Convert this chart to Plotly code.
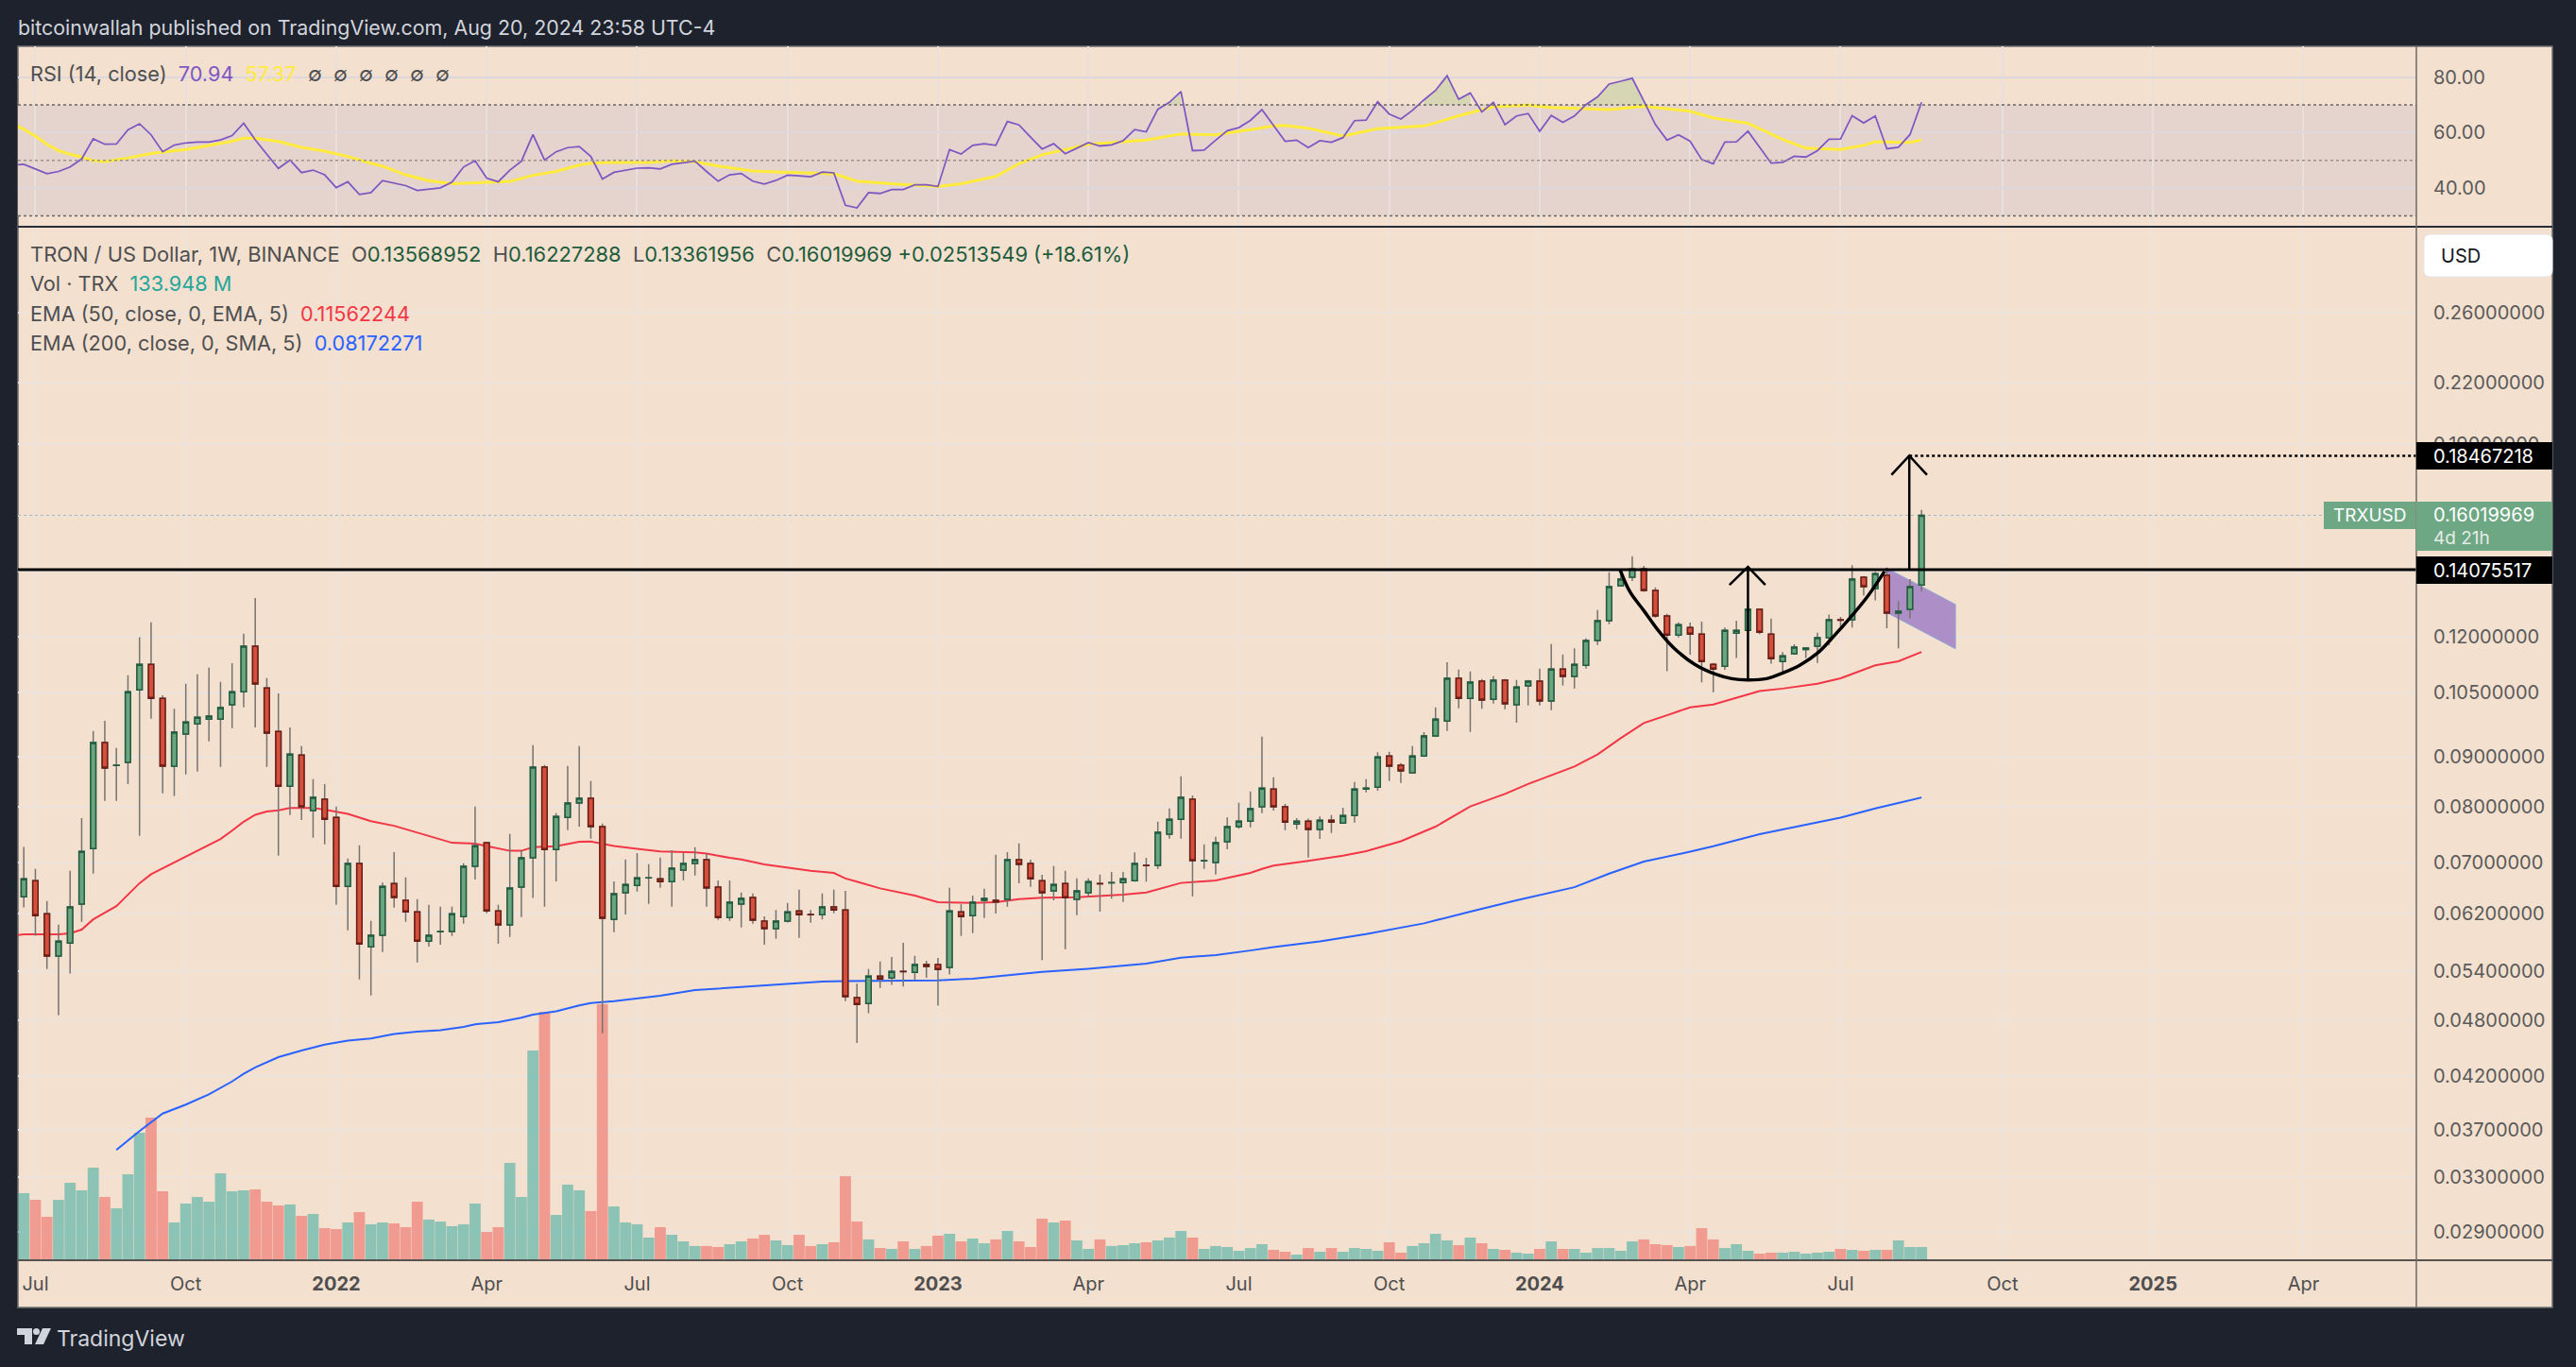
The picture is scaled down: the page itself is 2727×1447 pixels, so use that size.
import pandas as pd
import plotly.graph_objects as go

W, H = 2727, 1447
FONT = "Inter"

# weekly candles, first bar is the week of 2021-06-28
START = pd.Timestamp("2021-06-28")

opens = [
    .06447, .06700, .06191, .05597, .05773, .06336, .07233, .09315, .08818, .08883,
    .10564, .11226, .10353, .08805, .09505, .09738, .09852, .09852, .10194, .10515,
    .11723, .10612, .09568, .08393, .09041, .07919, .08137, .07792, .06611, .06981,
    .05722, .05881, .06655, .06394, .06219, .05800, .05931, .05935, .06151, .06934,
    .07334, .06234, .06029, .06597, .07075, .08785, .07216, .07792, .08064, .08155,
    .07622, .06110, .06510, .06626, .06745, .06731, .06684, .06871, .06981, .07043,
    .06597, .06137, .06336, .06437, .06083, .05975, .06083, .06234, .06180, .06178,
    .06292, .06248, .05069, .04999, .05335, .05312, .05397, .05385, .05485, .05485,
    .05447, .06219, .06164, .06394, .06394, .06408, .07043, .06981, .06700, .06539,
    .06655, .06408, .06510, .06655, .06667, .06669, .06700, .06950, .06950, .07486,
    .07757, .08137, .07025, .06997, .07351, .07622, .07723, .07992, .08337, .07992,
    .07672, .07723, .07571, .07740, .07689, .07829, .08337, .08373, .09020, .08824,
    .08667, .09020, .09463, .09806, .10858, .10353, .10784, .10330, .10809, .10194,
    .10662, .10784, .10285, .11103, .10907, .11201, .11882, .12458, .13541, .13818,
    .14094, .13388, .12602, .12041, .12258, .12067, .11226, .11177, .12094, .12173,
    .12800, .12067, .11300, .11511, .11634, .11723, .11961, .12486, .12486, .13818,
    .13449, .13879, .12686, .12800, .13568952,
]
highs = [
    .07261, .06892, .06384, .06034, .06861, .07780, .09575, .09814, .09196, .10940,
    .11979, .12410, .10429, .10096, .10719, .10964, .11136, .10768, .11259, .12076,
    .13152, .10866, .10475, .09660, .09238, .08537, .08438, .07998, .07064, .07289,
    .06088, .06669, .07174, .06752, .06413, .06326, .06297, .06297, .06986, .07998,
    .07345, .06326, .07492, .07205, .09257, .08831, .07871, .08811, .09238, .08497,
    .07678, .06689, .07049, .07158, .06971, .07080, .07205, .07158, .07256, .07153,
    .06705, .06705, .06515, .06500, .06155, .06248, .06355, .06558, .06248, .06500,
    .06558, .06539, .05239, .05427, .05526, .05585, .05778, .05601, .05534, .05572,
    .06587, .06336, .06466, .06573, .07127, .07174, .07323, .07043, .06793, .06939,
    .06861, .06736, .06736, .06798, .06840, .06840, .07168, .07075, .07712, .07962,
    .08596, .08210, .07306, .07441, .07792, .08070, .08288, .09449, .08576, .08046,
    .07780, .07768, .07810, .07835, .07974, .08478, .08537, .09105, .09112, .08870,
    .09238, .09547, .10133, .11283, .11087, .11038, .10842, .10915, .10842, .10817,
    .10817, .11112, .11785, .11493, .11664, .11944, .12781, .13982, .14043, .14531,
    .14199, .13490, .12666, .12410, .12400, .12429, .11267, .12258, .12458, .12952,
    .12829, .12525, .11562, .11776, .11696, .12103, .12640, .12572, .14221, .13859,
    .14002, .14146, .13047, .13756, .16227288,
]
lows = [
    .06287, .05877, .05427, .04860, .05368, .06074, .06814, .08107, .08107, .08438,
    .07458, .09859, .08252, .08204, .08635, .08693, .09343, .08792, .09639, .10133,
    .09660, .08792, .07111, .07835, .07745, .07425, .07306, .06326, .05953, .05293,
    .05096, .05651, .06282, .06074, .05514, .05726, .05751, .05872, .06047, .06720,
    .06200, .05764, .05858, .06142, .06428, .06297, .06689, .07560, .07622, .07408,
    .04655, .05926, .06182, .06529, .06340, .06587, .06297, .06705, .06783, .06297,
    .06101, .06088, .05993, .06047, .05751, .05832, .06065, .05845, .06061, .06110,
    .06200, .05026, .04549, .04885, .05188, .05227, .05204, .05289, .05316, .04972,
    .05356, .05872, .05913, .06128, .06196, .06297, .06660, .06602, .05543, .06394,
    .05689, .06169, .06442, .06224, .06418, .06370, .06684, .06684, .06892, .07408,
    .07408, .06456, .06892, .06799, .07222, .07582, .07610, .07871, .07919, .07560,
    .07576, .07080, .07402, .07509, .07678, .07695, .08270, .08306, .08497, .08458,
    .08648, .09001, .09442, .09575, .10110, .09554, .10096, .10224, .10087, .09768,
    .10179, .10179, .10064, .10670, .10596, .11112, .11760, .12353, .13511, .13695,
    .13347, .12554, .11046, .11970, .11485, .10754, .10506, .11079, .11396, .11573,
    .12067, .11242, .10981, .11485, .11396, .11267, .11750, .12286, .12258, .13234,
    .13075, .12238, .11664, .12525, .13361956,
]
closes = [
    .06731, .06164, .05597, .05800, .06292, .07184, .09315, .08765, .08824, .10515,
    .11226, .10353, .08805, .09547, .09783, .09897, .09920, .10125, .10515, .11723,
    .10711, .09526, .08393, .09063, .07992, .08173, .07757, .06611, .06981, .05760,
    .05881, .06611, .06437, .06219, .05800, .05881, .05935, .06191, .06934, .07284,
    .06234, .06029, .06582, .07075, .08785, .07216, .07810, .08064, .08155, .07622,
    .06124, .06495, .06640, .06747, .06747, .06684, .06903, .06981, .07043, .06582,
    .06137, .06365, .06423, .06097, .05975, .06083, .06219, .06178, .06178, .06292,
    .06248, .05080, .04988, .05335, .05300, .05397, .05394, .05485, .05460, .05422,
    .06234, .06151, .06365, .06423, .06370, .07043, .06965, .06731, .06510, .06640,
    .06432, .06539, .06684, .06652, .06669, .06731, .06981, .06947, .07520, .07757,
    .08173, .07028, .07028, .07334, .07622, .07723, .07956, .08355, .07992, .07706,
    .07723, .07571, .07740, .07706, .07829, .08337, .08355, .09001, .08805, .08707,
    .09020, .09463, .09852, .10858, .10353, .10760, .10308, .10809, .10216, .10637,
    .10784, .10285, .11103, .10907, .11226, .11882, .12458, .13511, .13756, .14094,
    .13388, .12602, .12041, .12343, .12067, .11300, .11103, .12173, .12173, .12800,
    .12120, .11381, .11458, .11696, .11670, .11961, .12486, .12476, .13756, .13511,
    .13941, .12686, .12743, .13511, .16019969,
]
# millions of TRX
volumes = [
    679, 612, 440, 612, 785, 708, 938, 641, 526, 871,
    1292, 1445, 699, 383, 574, 641, 593, 880, 699, 708,
    718, 593, 555, 565, 450, 469, 325, 316, 383, 488,
    364, 383, 373, 335, 593, 412, 392, 345, 364, 574,
    287, 335, 986, 641, 2125, 2517, 459, 766, 708, 498,
    2593, 545, 383, 364, 230, 335, 258, 191, 144, 144,
    134, 163, 191, 220, 258, 201, 153, 258, 144, 163,
    182, 852, 392, 211, 124, 115, 191, 115, 144, 249,
    268, 191, 220, 172, 211, 297, 191, 134, 421, 383,
    402, 201, 115, 211, 144, 153, 172, 182, 201, 230,
    297, 230, 115, 144, 134, 96, 124, 163, 105, 86,
    57, 124, 86, 124, 86, 124, 115, 96, 182, 77,
    144, 172, 268, 201, 153, 230, 172, 115, 105, 77,
    67, 115, 191, 115, 115, 77, 124, 124, 96, 191,
    211, 163, 153, 134, 144, 325, 211, 124, 163, 96,
    67, 77, 77, 86, 67, 77, 86, 115, 105, 96,
    105, 105, 201, 134, 133.948,
]
# starts one week before the first candle
rsi = [
    48.2, 48.6, 46.9, 45.2, 46.0, 47.6, 50.5, 57.8, 55.8, 55.9, 61.0,
    63.2, 59.2, 53.1, 55.5, 56.3, 56.6, 56.6, 57.4, 58.9, 63.4,
    57.4, 52.2, 47.1, 50.1, 45.6, 46.5, 44.8, 40.2, 42.3, 37.7,
    38.4, 42.7, 41.8, 40.9, 39.2, 39.6, 40.1, 42.2, 47.6, 49.9,
    43.6, 42.3, 46.5, 49.7, 59.3, 50.1, 53.1, 54.6, 55.0, 51.4,
    43.3, 45.7, 46.5, 47.2, 47.3, 46.9, 48.6, 49.2, 49.7, 46.0,
    42.5, 44.8, 45.3, 42.5, 41.5, 42.8, 44.7, 44.4, 44.1, 45.8,
    45.5, 33.8, 32.9, 38.4, 38.1, 39.5, 39.5, 41.2, 41.2, 40.6,
    53.9, 52.3, 55.4, 56.0, 55.4, 64.0, 62.8, 58.4, 54.1, 56.0,
    52.4, 54.4, 56.4, 55.2, 55.6, 57.1, 61.1, 60.3, 68.4, 70.9,
    74.8, 53.5, 53.7, 57.3, 60.7, 61.8, 64.4, 68.3, 62.4, 56.9,
    57.3, 54.6, 57.1, 56.5, 58.2, 64.3, 64.5, 71.1, 66.7, 64.9,
    68.0, 71.8, 75.2, 80.5, 72.0, 74.3, 67.5, 70.9, 62.9, 66.0,
    66.9, 60.5, 66.2, 63.7, 66.0, 70.1, 72.9, 77.5, 78.5, 79.6,
    71.4, 62.9, 57.3, 59.2, 56.9, 50.3, 48.8, 56.6, 56.7, 60.5,
    54.8, 49.0, 49.3, 51.5, 51.2, 53.5, 57.6, 57.7, 66.1, 63.5,
    66.0, 54.2, 54.7, 59.3, 70.94,
]
rsi_ma_weeks = [
    -1, 0, 1, 2, 3, 4, 5, 6, 7, 9, 11, 12, 14, 16, 18, 19, 20, 22, 24, 26, 28, 30, 31, 33, 35, 37,
    39, 41, 42, 44, 46, 48, 49, 51, 54, 56, 58, 60, 62, 63, 65, 67, 70, 71, 72, 75, 79, 81, 84, 86,
    88, 92, 97, 100, 103, 106, 108, 109, 111, 114, 117, 121, 122, 124, 126, 127, 130, 132, 137,
    140, 144, 146, 149, 152, 154, 157, 159, 160, 163, 164,
]
rsi_ma = [
    63.3, 61.2, 58.8, 55.8, 53.5, 52.2, 51.2, 49.9, 49.6, 50.9, 52.5, 52.9, 53.9, 55.4, 56.9, 58.0, 58.0, 56.8, 54.7, 53.3, 51.4, 49.0, 47.9, 44.8, 42.7, 41.6,
    41.9, 42.0, 42.4, 44.6, 46.0, 48.3, 49.0, 49.3, 49.2, 49.8, 49.5, 48.0, 46.7, 46.2, 45.8, 45.5, 45.2, 43.9, 42.5, 41.6, 40.6, 41.6, 44.2, 48.8,
    52.0, 55.8, 57.3, 59.5, 59.2, 61.1, 62.4, 62.6, 61.6, 58.8, 61.4, 62.4, 63.5, 66.1, 68.3, 69.3, 69.9, 69.1, 68.3,
    69.5, 67.7, 65.3, 63.4, 57.5, 54.4, 53.9, 55.4, 56.7, 56.5, 57.37,
]
ema50_weeks = [
    -1, 0, 3, 4, 5, 6, 8, 10, 11, 13, 15, 17, 18, 19, 20, 21, 22, 23, 25, 26, 28, 30, 32, 34, 36, 37, 39,
    41, 42, 43, 44, 46, 47, 48, 49, 51, 53, 55, 58, 59, 61, 62, 64, 66, 68, 70, 71, 72, 74, 77, 79, 82,
    84, 86, 88, 91, 95, 97, 98, 100, 103, 106, 107, 108, 111, 114, 116, 119, 122, 125, 128, 130, 134,
    136, 138, 140, 142, 144, 146, 149, 150, 152, 155, 157, 160, 162, 164,
]
ema50 = [
    .05877, .05895, .05895, .05908, .05962, .06110, .06306, .06660, .06803, .06997, .07195, .07402, .07549, .07712, .07841, .07901, .07925, .07968, .07968, .07937, .07859, .07723, .07638, .07514, .07396, .07334, .07318,
    .07228, .07195, .07195, .07256, .07273, .07312, .07351, .07357, .07278, .07228, .07184, .07168, .07148, .07075, .07049, .06965, .06908, .06861, .06825, .06736, .06684, .06578, .06466, .06365, .06355,
    .06365, .06413, .06432, .06442, .06481, .06515, .06563, .06664, .06705, .06825, .06892, .06945, .07023, .07111, .07189, .07362, .07622, .07998, .08240, .08438, .08798,
    .09055, .09414, .09760, .09943, .10133, .10201, .10452, .10531, .10596, .10719, .10858, .11201, .11308, .11562244,
]
ema200_weeks = [
    8, 10, 12, 14, 16, 18, 19, 20, 22, 24, 26, 28, 30, 32, 34, 36, 38, 39, 41, 43, 44, 46, 48, 49, 51,
    53, 55, 58, 61, 63, 66, 69, 71, 74, 79, 82, 85, 88, 92, 97, 100, 103, 106, 108, 112, 116, 121, 123,
    125, 129, 134, 137, 140, 144, 146, 150, 152, 157, 160, 164,
]
ema200 = [
    .03524, .03687, .03844, .03927, .04024, .04150, .04227, .04291, .04398, .04468, .04531, .04574, .04598, .04648, .04673, .04691, .04727, .04756, .04781, .04831, .04867, .04906, .04976, .05003, .05026,
    .05057, .05092, .05161, .05188, .05211, .05231, .05266, .05273, .05273, .05281, .05304, .05347, .05389, .05431, .05497, .05576, .05610, .05672, .05718, .05796, .05899, .06052, .06133,
    .06224, .06394, .06597, .06814, .07012, .07179, .07273, .07486, .07571, .07786, .07962, .08172271,
]

price_ticks = [.26, .22, .19, .16, .14, .12, .105, .09, .08, .07, .062, .054, .048, .042, .037, .033, .029]
hidden_ticks = [.16, .14]
rsi_ticks = [80, 60, 40]
time_ticks = ["2021-07-05", "2021-10-04", "2022-01-03", "2022-04-04", "2022-07-04", "2022-10-03", "2023-01-02",
              "2023-04-03", "2023-07-03", "2023-10-02", "2024-01-01", "2024-04-01", "2024-07-01", "2024-10-07",
              "2025-01-06", "2025-04-07"]
time_labels = ["Jul", "Oct", "<b>2022</b>", "Apr", "Jul", "Oct", "<b>2023</b>", "Apr", "Jul", "Oct", "<b>2024</b>",
               "Apr", "Jul", "Oct", "<b>2025</b>", "Apr"]

neckline = 0.14075517
target = 0.18467218
last_price = 0.16019969

# hand drawn cup, arrows and flag
cup_weeks = [137.94, 138.8, 140.0, 141.2, 142.6, 144.4, 146.2, 147.6, 149.0, 150.6, 152.0, 153.5, 155.0, 156.4, 157.9, 159.4, 160.8]
cup_prices = [.14075, .13347, .12762, .12191, .11670, .11226, .10964, .10850, .10817, .10850, .10997, .11209, .11530, .12000, .12573, .13234, .14012]
arrow1_weeks = [149.0, 149.0, None, 147.4, 149.0, 150.5]
arrow1_prices = [.10817, .14166, None, .13572, .14166, .13572]
arrow2_weeks = [162.94, 162.94, None, 161.4, 162.94, 164.47]
arrow2_prices = [.14075517, .18467218, None, .17643, .18467218, .17643]
flag_weeks = [160.95, 166.93, 166.93, 161.2, 160.95]
flag_prices = [.14130, .12952, .11652, .12666, .14130]


def week(i):
    return None if i is None else START + pd.Timedelta(days=7 * i)


def px_x(x):
    return x / W


def px_y(y):
    return 1 - y / H


n = len(closes)
dates = [week(i) for i in range(n)]
x_range = [week(-0.506), week(206.76)]

PRICE_LOG_RANGE = [-1.5672, -0.4973]
VOL_TOP = 10460
price_axis = dict(type="log", range=PRICE_LOG_RANGE, domain=[px_y(1334), px_y(241)], anchor="x", overlaying="y",
                  visible=False, showgrid=False)

GREEN, RED = "#6aa57f", "#d4503d"
GREEN_EDGE, RED_EDGE = "#1f5c40", "#6b1c14"
vol_colors = ["rgba(38,166,154,0.5)" if c >= o else "rgba(239,83,80,0.5)" for o, c in zip(opens, closes)]

fig = go.Figure()

# volume sits in the base subplot so everything else draws on top of it
fig.add_trace(go.Bar(x=dates, y=volumes, marker=dict(color=vol_colors, line_width=0), xaxis="x", yaxis="y"))

# EMAs and flag under the candles
fig.add_trace(go.Scatter(x=[week(i) for i in flag_weeks], y=flag_prices, mode="lines", fill="toself",
                         fillcolor="rgba(126,87,194,0.6)", line=dict(color="#8fa8d6", width=1), xaxis="x", yaxis="y2"))
fig.add_trace(go.Scatter(x=x_range, y=[last_price, last_price], mode="lines",
                         line=dict(color="#a9b8a3", width=1, dash="dot"), xaxis="x", yaxis="y2"))
fig.add_trace(go.Scatter(x=[week(i) for i in ema50_weeks], y=ema50, mode="lines",
                         line=dict(color="#f23645", width=2), xaxis="x", yaxis="y2"))
fig.add_trace(go.Scatter(x=[week(i) for i in ema200_weeks], y=ema200, mode="lines",
                         line=dict(color="#2962ff", width=2), xaxis="x", yaxis="y2"))

# wicks first in grey, then bodies with their own dark outline
WICK = dict(line=dict(color="#77736f", width=1.5), fillcolor="rgba(0,0,0,0)")
fig.add_trace(go.Candlestick(x=dates, open=opens, high=highs, low=lows, close=closes,
                             increasing=WICK, decreasing=WICK, whiskerwidth=0, xaxis="x", yaxis="y4"))
fig.add_trace(go.Candlestick(x=dates, open=opens, close=closes,
                             high=[max(o, c) for o, c in zip(opens, closes)],
                             low=[min(o, c) for o, c in zip(opens, closes)],
                             increasing=dict(line=dict(color=GREEN_EDGE, width=1.5), fillcolor=GREEN),
                             decreasing=dict(line=dict(color=RED_EDGE, width=1.5), fillcolor=RED),
                             whiskerwidth=0, xaxis="x", yaxis="y4"))

# drawings on top
BLACK = dict(color="#000000", width=3)
fig.add_trace(go.Scatter(x=x_range, y=[neckline, neckline], mode="lines", line=BLACK, xaxis="x", yaxis="y5"))
fig.add_trace(go.Scatter(x=[week(i) for i in cup_weeks], y=cup_prices, mode="lines",
                         line=dict(color="#000000", width=3.5, shape="spline"), xaxis="x", yaxis="y5"))
fig.add_trace(go.Scatter(x=[week(i) for i in arrow1_weeks], y=arrow1_prices, mode="lines",
                         line=dict(color="#000000", width=2.5), xaxis="x", yaxis="y5"))
fig.add_trace(go.Scatter(x=[week(i) for i in arrow2_weeks], y=arrow2_prices, mode="lines",
                         line=dict(color="#000000", width=2.5), xaxis="x", yaxis="y5"))
fig.add_trace(go.Scatter(x=[week(162.94), x_range[1]], y=[target, target], mode="lines",
                         line=dict(color="#000000", width=2.5, dash="dot"), xaxis="x", yaxis="y5"))

# RSI pane, overbought areas shaded first
rsi_dates = [week(i - 1) for i in range(len(rsi))]
group = []
for d, v in zip(rsi_dates + [None], rsi + [0]):
    if v > 70:
        group.append((d, v))
    elif group:
        xs = [g[0] for g in group]
        ys = [g[1] for g in group]
        fig.add_trace(go.Scatter(x=[xs[0]] + xs + [xs[-1]], y=[70] + ys + [70], mode="lines", fill="toself",
                                 fillcolor="rgba(140,185,110,0.28)", line_width=0, xaxis="x2", yaxis="y3"))
        group = []
fig.add_trace(go.Scatter(x=[week(i) for i in rsi_ma_weeks], y=rsi_ma, mode="lines",
                         line=dict(color="#ffeb3b", width=3), xaxis="x2", yaxis="y3"))
fig.add_trace(go.Scatter(x=rsi_dates, y=rsi, mode="lines",
                         line=dict(color="#7e57c2", width=1.75), xaxis="x2", yaxis="y3"))


def rounded_box(x0, y0, x1, y1, r):
    # path through paper coordinates, corners as quadratic curves
    pts = [("M", x0 + r, y0), ("L", x1 - r, y0), ("Q", x1, y0, x1, y0 + r), ("L", x1, y1 - r),
           ("Q", x1, y1, x1 - r, y1), ("L", x0 + r, y1), ("Q", x0, y1, x0, y1 - r), ("L", x0, y0 + r),
           ("Q", x0, y0, x0 + r, y0)]
    out = []
    for p in pts:
        coords = p[1:]
        vals = [px_x(c) if k % 2 == 0 else px_y(c) for k, c in enumerate(coords)]
        out.append(p[0] + " " + " ".join(str(v) for v in vals))
    return " ".join(out) + " Z"


GRID = "#ece4dc"
shapes = [
    dict(type="rect", xref="paper", yref="paper", x0=px_x(19), x1=px_x(2702), y0=px_y(49), y1=px_y(1384),
         fillcolor="#f3e0cf", line=dict(color="#6e6e6e", width=1.5), layer="below"),
    dict(type="rect", xref="paper", yref="y3", x0=px_x(19), x1=px_x(2558), y0=30, y1=70,
         fillcolor="#e5d3cd", line_width=0, layer="below"),
]
for level, col in [(70, "#6a6662"), (50, "#9a918c"), (30, "#6a6662")]:
    shapes.append(dict(type="line", xref="paper", yref="y3", x0=px_x(19), x1=px_x(2558), y0=level, y1=level,
                       line=dict(color=col, width=1.5, dash="3px,3px")))
shapes += [
    dict(type="line", xref="paper", yref="paper", x0=px_x(19), x1=px_x(2702), y0=px_y(240), y1=px_y(240),
         line=dict(color="#2a2e39", width=2)),
    dict(type="line", xref="paper", yref="paper", x0=px_x(19), x1=px_x(2702), y0=px_y(1334), y1=px_y(1334),
         line=dict(color="#55534f", width=2)),
    dict(type="line", xref="paper", yref="paper", x0=px_x(2558), x1=px_x(2558), y0=px_y(49), y1=px_y(1384),
         line=dict(color="#6e6b68", width=1.5)),
    # price labels
    dict(type="rect", xref="paper", yref="paper", x0=px_x(2558), x1=px_x(2702), y0=px_y(468), y1=px_y(497),
         fillcolor="#000000", line_width=0),
    dict(type="rect", xref="paper", yref="paper", x0=px_x(2558), x1=px_x(2702), y0=px_y(589), y1=px_y(618),
         fillcolor="#000000", line_width=0),
    dict(type="rect", xref="paper", yref="paper", x0=px_x(2558), x1=px_x(2702), y0=px_y(531), y1=px_y(583),
         fillcolor="#6ea784", line_width=0),
    dict(type="rect", xref="paper", yref="paper", x0=px_x(2460), x1=px_x(2557), y0=px_y(531), y1=px_y(560),
         fillcolor="#6ea784", line_width=0),
    dict(type="path", xref="paper", yref="paper", path=rounded_box(2566, 248, 2702, 293, 7),
         fillcolor="#ffffff", line=dict(color="#e6e6e6", width=1)),
    # TradingView logo
    dict(type="path", xref="paper", yref="paper", fillcolor="#d1d4dc", line_width=0,
         path="M {} {} L {} {} L {} {} L {} {} L {} {} L {} {} Z".format(
             px_x(18), px_y(1406), px_x(34), px_y(1406), px_x(34), px_y(1423),
             px_x(26), px_y(1423), px_x(26), px_y(1413), px_x(18), px_y(1413))),
    dict(type="circle", xref="paper", yref="paper", x0=px_x(35), x1=px_x(42), y0=px_y(1413), y1=px_y(1406),
         fillcolor="#d1d4dc", line_width=0),
    dict(type="path", xref="paper", yref="paper", fillcolor="#d1d4dc", line_width=0,
         path="M {} {} L {} {} L {} {} L {} {} Z".format(
             px_x(45), px_y(1406), px_x(54), px_y(1406), px_x(46), px_y(1423), px_x(37), px_y(1423))),
]


def label(x, y, text, color="#4f4f4f", size=20, anchor="left"):
    return dict(xref="paper", yref="paper", x=px_x(x), y=px_y(y), text=text, showarrow=False, xanchor=anchor,
                yanchor="middle", borderpad=0, font=dict(family=FONT, size=size, color=color))


def span(text, color):
    return f'<span style="color:{color}">{text}</span>'


VAL = "#1e5c3c"
annotations = [
    label(18, 29, "bitcoinwallah published on TradingView.com, Aug 20, 2024 23:58 UTC-4", "#d1d4dc", 21.4),
    label(31, 78, "RSI (14, close)  " + span("70.94", "#7e57c2") + "  " + span("57.37", "#ffeb3b")
          + "  ∅  ∅  ∅  ∅  ∅  ∅", size=21.7),
    label(31, 269, "TRON / US Dollar, 1W, BINANCE  O" + span("0.13568952", VAL) + "  H" + span("0.16227288", VAL)
          + "  L" + span("0.13361956", VAL) + "  C" + span("0.16019969 +0.02513549 (+18.61%)", VAL), size=21.9),
    label(31, 300, "Vol · TRX  " + span("133.948 M", "#26a69a"), size=21.7),
    label(31, 332, "EMA (50, close, 0, EMA, 5)  " + span("0.11562244", "#f23645"), size=21.7),
    label(31, 363, "EMA (200, close, 0, SMA, 5)  " + span("0.08172271", "#2962ff"), size=21.7),
    label(2583, 271, "USD", "#131722", 20),
    label(2575, 483, "0.18467218", "#ffffff"),
    label(2575, 604, "0.14075517", "#ffffff"),
    label(2575, 545, "0.16019969", "#ffffff"),
    label(2575, 569, "4d 21h", "#e4ece6", 19),
    label(2469, 545, "TRXUSD", "#ffffff", 19),
    label(59, 1417, "TradingView", "#d1d4dc", 23),
]

shown_ticks = [t for t in price_ticks if t not in hidden_ticks]
fig.update_layout(
    width=W, height=H, margin=dict(l=0, r=0, t=0, b=0),
    paper_bgcolor="#1e222d", plot_bgcolor="rgba(0,0,0,0)", showlegend=False,
    barmode="overlay", bargap=0.04, boxmode="overlay", boxgap=0.35, hovermode=False,
    shapes=shapes, annotations=annotations,
    xaxis=dict(domain=[px_x(19), px_x(2558)], range=x_range, type="date", anchor="y", tickmode="array",
               tickvals=time_ticks, ticktext=time_labels, showgrid=True, gridcolor=GRID, gridwidth=2, ticks="",
               rangeslider=dict(visible=False), tickfont=dict(family=FONT, size=20, color="#4f4f4f"),
               ticklabelstandoff=11, zeroline=False),
    xaxis2=dict(domain=[px_x(19), px_x(2558)], range=x_range, type="date", anchor="y3", tickmode="array",
                tickvals=time_ticks, showticklabels=False, showgrid=True, gridcolor="#e9dfdc", gridwidth=2,
                ticks="", rangeslider=dict(visible=False), zeroline=False),
    yaxis=dict(domain=[px_y(1334), px_y(241)], range=[0, VOL_TOP], anchor="x", visible=False, showgrid=False),
    yaxis2=dict(type="log", range=PRICE_LOG_RANGE, domain=[px_y(1334), px_y(241)], anchor="x", overlaying="y",
                side="right", tickmode="array", tickvals=price_ticks,
                ticktext=[f"{t:.8f}" if t in shown_ticks else "" for t in price_ticks],
                showgrid=True, gridcolor=GRID, gridwidth=2, ticks="", ticklabelstandoff=17,
                tickfont=dict(family=FONT, size=20, color="#5a5a5a"), zeroline=False),
    yaxis3=dict(domain=[px_y(240), px_y(49)], range=[26.1, 91.1], anchor="x2", side="right", tickmode="array",
                tickvals=rsi_ticks, ticktext=[f"{t:.2f}" for t in rsi_ticks], showgrid=True,
                gridcolor="#ded8de", gridwidth=2, ticks="", ticklabelstandoff=17,
                tickfont=dict(family=FONT, size=20, color="#5a5a5a"), zeroline=False),
    yaxis4=price_axis,
    yaxis5=price_axis,
)

fig.write_html("out.html", config={"displayModeBar": False},
               post_script="document.body.style.margin='0';document.body.style.background='#1e222d';")
